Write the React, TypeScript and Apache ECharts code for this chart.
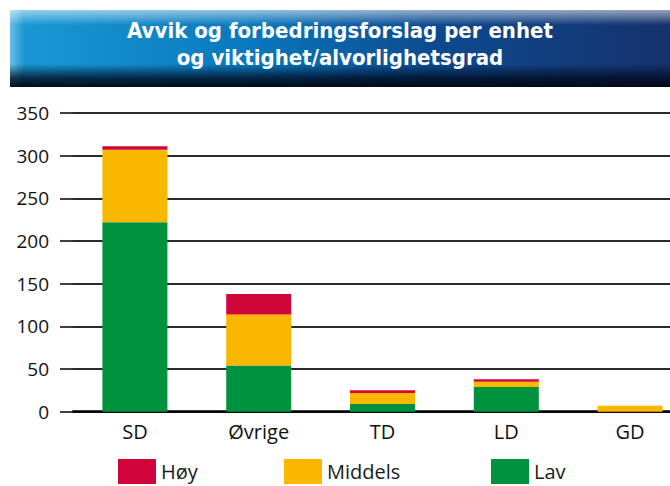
import React, { useEffect, useRef } from "react";
import * as echarts from "echarts";

const categories = ["SD", "Øvrige", "TD", "LD", "GD"];
const lav = [222, 54, 9, 29, 0];
const middels = [85, 60, 13, 6, 7];
const hoy = [4, 24, 3, 3, 0];
const yTicks = { min: 0, max: 350, interval: 50 };
const titleText = "Avvik og forbedringsforslag per enhet\nog viktighet/alvorlighetsgrad";

const COLORS = { hoy: "#d0063b", middels: "#f9b700", lav: "#00923f" };
const FONT = "'Open Sans', 'Noto Sans', sans-serif";

export default function App() {
  const ref = useRef<HTMLDivElement>(null);

  useEffect(() => {
    if (!ref.current) return;
    const chart = echarts.init(ref.current, undefined, { renderer: "svg" });
    const legendItem = (name: string, left: number) => ({
      show: true,
      left,
      top: 459,
      padding: 0,
      itemWidth: 38,
      itemHeight: 25,
      icon: "rect",
      selectedMode: false,
      data: [name],
      textStyle: { fontSize: 20, fontFamily: FONT, color: "#1a1a1a" },
    });
    chart.setOption({
      animation: false,
      backgroundColor: "#ffffff",
      title: {
        text: titleText,
        left: 340,
        textAlign: "center",
        top: 17,
        padding: 0,
        textStyle: {
          color: "#ffffff",
          fontSize: 22,
          fontWeight: "bold",
          lineHeight: 27,
          fontFamily: "'Liberation Sans Narrow', 'DejaVu Sans Condensed', sans-serif",
        },
      },
      graphic: [
        {
          type: "rect",
          z: 0,
          shape: { x: 10, y: 10, width: 682, height: 77 },
          style: {
            fill: new echarts.graphic.LinearGradient(0, 0, 1, 0, [
              { offset: 0, color: "#1a9ad6" },
              { offset: 0.35, color: "#0a78bd" },
              { offset: 0.62, color: "#0d4a8f" },
              { offset: 1, color: "#16306a" },
            ]),
          },
        },
        {
          type: "rect",
          z: 1,
          shape: { x: 10, y: 10, width: 682, height: 15 },
          style: {
            fill: new echarts.graphic.LinearGradient(0, 0, 0, 1, [
              { offset: 0, color: "rgba(255,255,255,0.55)" },
              { offset: 1, color: "rgba(255,255,255,0)" },
            ]),
          },
        },
        {
          type: "rect",
          z: 1,
          shape: { x: 10, y: 10, width: 14, height: 77 },
          style: {
            fill: new echarts.graphic.LinearGradient(0, 0, 1, 0, [
              { offset: 0, color: "rgba(255,255,255,0.35)" },
              { offset: 1, color: "rgba(255,255,255,0)" },
            ]),
          },
        },
        {
          type: "rect",
          z: 1,
          shape: { x: 10, y: 64, width: 682, height: 23 },
          style: {
            fill: new echarts.graphic.LinearGradient(0, 0, 0, 1, [
              { offset: 0, color: "rgba(0,10,30,0)" },
              { offset: 0.6, color: "rgba(0,10,30,0.75)" },
              { offset: 1, color: "rgba(0,5,20,0.95)" },
            ]),
          },
        },
      ],
      legend: [
        legendItem("Høy", 118),
        legendItem("Middels", 284),
        legendItem("Lav", 491),
      ],
      grid: { left: 73, right: 0, top: 113, bottom: 74.3, containLabel: false },
      xAxis: {
        type: "category",
        data: categories,
        axisLine: { show: true, lineStyle: { color: "#000", width: 2.5 } },
        axisTick: { show: false },
        axisLabel: { fontSize: 20, color: "#111", fontFamily: FONT, margin: 10 },
      },
      yAxis: {
        type: "value",
        min: yTicks.min,
        max: yTicks.max,
        interval: yTicks.interval,
        axisLine: { show: false },
        axisTick: { show: true, length: 13, lineStyle: { color: "#2a2a2a", width: 1.8 } },
        axisLabel: { fontSize: 19, color: "#111", fontFamily: FONT, margin: 24 },
        splitLine: { show: true, lineStyle: { color: "#2a2a2a", width: 1.8 } },
      },
      series: [
        {
          name: "Lav",
          type: "bar",
          stack: "total",
          data: lav,
          barWidth: 65,
          itemStyle: { color: COLORS.lav },
        },
        {
          name: "Middels",
          type: "bar",
          stack: "total",
          data: middels,
          barWidth: 65,
          itemStyle: { color: COLORS.middels },
        },
        {
          name: "Høy",
          type: "bar",
          stack: "total",
          data: hoy,
          barWidth: 65,
          itemStyle: { color: COLORS.hoy },
        },
      ],
    });
    return () => chart.dispose();
  }, []);

  return (
    <div
      ref={ref}
      style={{ position: "fixed", left: 0, top: 0, width: 692, height: 486 }}
    />
  );
}
